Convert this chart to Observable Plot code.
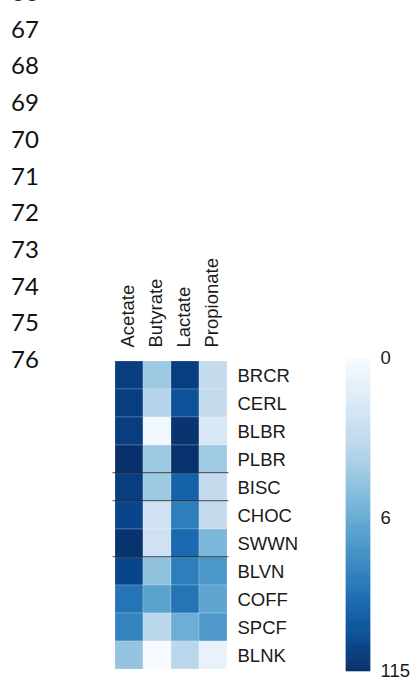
<!DOCTYPE html>
<html>
<head>
<meta charset="utf-8">
<script src="https://cdn.jsdelivr.net/npm/d3@7"></script>
<script src="https://cdn.jsdelivr.net/npm/@observablehq/plot@0.6"></script>
<style>
  html, body { margin: 0; padding: 0; background: #fff; }
  #page { position: relative; width: 417px; height: 679px; overflow: hidden; background: #fff; }
  #lines { position: absolute; left: 11px; top: -26px; font-family: Lato, "Open Sans", sans-serif;
           font-size: 24px; line-height: 36.7px; color: #111; }
  #heat { position: absolute; left: 113px; top: 250px; }
  #key { position: absolute; left: 346px; top: 348px; }
  svg { overflow: visible; }
</style>
</head>
<body>
<div id="page">
  <div id="lines"></div>
  <div id="heat"></div>
  <div id="key"></div>
</div>
<script>
// Manuscript line numbers running down the left margin
const lineNumbers = [66, 67, 68, 69, 70, 71, 72, 73, 74, 75, 76];

// Fermentation products (columns) and samples (rows)
const compounds = ["Acetate", "Butyrate", "Lactate", "Propionate"];
const samples = ["BRCR", "CERL", "BLBR", "PLBR", "BISC", "CHOC", "SWWN", "BLVN", "COFF", "SPCF", "BLNK"];

// Concentration per sample, one array per compound (same order as samples)
const acetate    = [85, 85, 85, 115, 85, 71, 108, 71, 24, 17, 2.9];
const butyrate   = [2.4, 1.5, 0.06, 2.4, 2.4, 0.7, 0.7, 3.1, 7.6, 1.3, 0];
const lactate    = [85, 53, 106, 110, 37, 19, 31, 19, 24, 5.6, 1.3];
const propionate = [1.0, 1.0, 0.43, 2.3, 1.0, 1.0, 4.3, 10.4, 7.2, 9.8, 0.15];

// Group boundaries: a rule is drawn above each of these rows
const groupStarts = ["BISC", "CHOC", "BLVN"];

// Colour key
const keyDomain = [0, 115];
const keyTicks = [0, 6, 115];

document.getElementById("lines").innerHTML =
  lineNumbers.map(n => `<div>${n}</div>`).join("");

const series = {Acetate: acetate, Butyrate: butyrate, Lactate: lactate, Propionate: propionate};
const cells = samples.flatMap((s, i) =>
  compounds.map(c => ({sample: s, compound: c, value: series[c][i]})));

const color = {type: "symlog", constant: 0.3, domain: keyDomain, scheme: "blues"};
const font = {fontFamily: "'Liberation Sans', Arial, sans-serif", fontSize: "18.5px", color: "#1a1a1a", background: "transparent"};

const cellsTop = 108, gridH = 313, gridW = 115;
const rowH = gridH / samples.length;

const heat = Plot.plot({
  width: gridW + 90,
  height: cellsTop + gridH,
  marginTop: cellsTop,
  marginBottom: 0,
  marginLeft: 0,
  marginRight: 90,
  style: font,
  x: {domain: compounds, padding: 0, axis: "top", tickRotate: -90, tickSize: 0, tickPadding: 11, label: null},
  y: {domain: samples, padding: 0, axis: "right", tickSize: 0, tickPadding: 9, label: null},
  color,
  marks: [
    Plot.cell(cells, {x: "compound", y: "sample", fill: "value", stroke: "white", strokeOpacity: 0.25, strokeWidth: 0.8}),
    Plot.cell(groupStarts, {y: d => d, fill: "#111", insetTop: -0.6, insetBottom: rowH - 0.6, insetLeft: -0.5, insetRight: -0.5})
  ]
});
// Nudge the row names a touch below the row centres, the column names slightly left
heat.querySelectorAll("g[aria-label^='y-axis'] text").forEach(t => t.setAttribute("dy", "1px"));
heat.querySelectorAll("g[aria-label^='x-axis'] text").forEach(t => t.setAttribute("dy", "-1.4px"));
document.getElementById("heat").appendChild(heat);

// Vertical colour bar: thin strips evenly spaced along the symlog axis
const keyScale = d3.scaleSymlog().constant(0.3).domain(keyDomain).range([0, 1]);
const steps = 150;
const strips = d3.range(steps).map(i => ({
  lo: keyScale.invert(i / steps),
  hi: keyScale.invert((i + 1) / steps),
  mid: keyScale.invert((i + 0.5) / steps)
}));

const key = Plot.plot({
  width: 24 + 47,
  height: 10 + gridH + 8,
  marginTop: 10,
  marginBottom: 8,
  marginLeft: 0,
  marginRight: 47,
  style: font,
  x: {axis: null},
  y: {type: "symlog", constant: 0.3, domain: keyDomain, reverse: true, axis: "right",
      ticks: keyTicks, tickFormat: d => String(d), tickSize: 0, tickPadding: 10, label: null},
  color,
  marks: [
    Plot.rect(strips, {y1: "lo", y2: "hi", fill: "mid", stroke: "mid", strokeWidth: 0.6})
  ]
});
key.querySelectorAll("g[aria-label^='y-axis'] text").forEach(t => t.setAttribute("dy", "-0.8px"));
document.getElementById("key").appendChild(key);
</script>
</body>
</html>
